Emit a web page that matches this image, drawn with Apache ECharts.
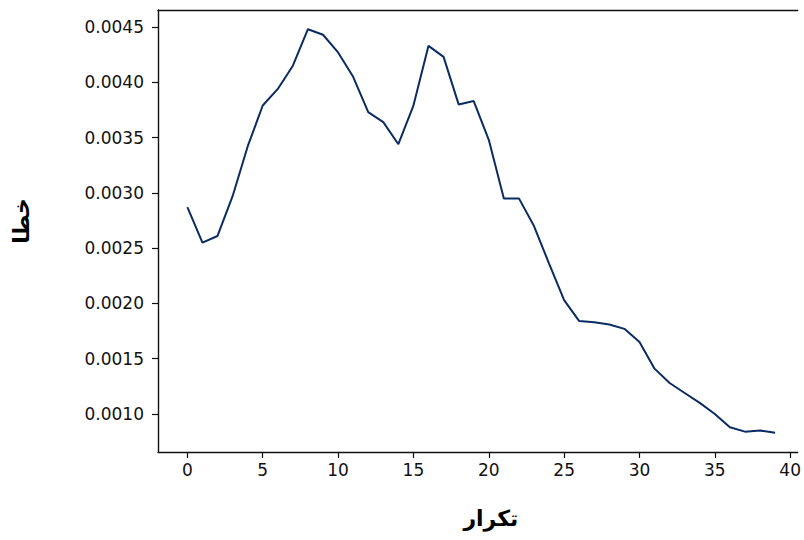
<!DOCTYPE html>
<html>
<head>
<meta charset="utf-8">
<script src="https://cdn.jsdelivr.net/npm/echarts@6/dist/echarts.min.js"></script>
<style>
html,body{margin:0;padding:0;background:#fff;}
#chart{width:804px;height:540px;}
</style>
</head>
<body>
<div id="chart"></div>
<script>
const iterations = [0,1,2,3,4,5,6,7,8,9,10,11,12,13,14,15,16,17,18,19,20,21,22,23,24,25,26,27,28,29,30,31,32,33,34,35,36,37,38,39];
const errorValues = [0.00287,0.00255,0.00261,0.00297,0.00342,0.00379,0.00394,0.00415,0.00448,0.00443,
  0.00427,0.00405,0.00373,0.00364,0.00344,0.00379,0.00433,0.00423,0.00380,0.00383,
  0.00348,0.00295,0.00295,0.00270,0.00236,0.00203,0.00184,0.00183,0.00181,0.00177,
  0.00165,0.00141,0.00128,0.00119,0.00110,0.00100,0.00088,0.00084,0.00085,0.00083];
const xTicks = [0,5,10,15,20,25,30,35,40];
const yTicks = [0.0010,0.0015,0.0020,0.0025,0.0030,0.0035,0.0040,0.0045];
const xAxisTitle = 'تكرار';
const yAxisTitle = 'خطا';

const chart = echarts.init(document.getElementById('chart'), null, {renderer:'svg'});
const font = 'DejaVu Sans';
const spine = {show:true, onZero:false, lineStyle:{color:'#111', width:1.4}};
chart.setOption({
  animation: false,
  backgroundColor: '#fff',
  grid: {left:158, top:10, right:0, bottom:88, show:false},
  xAxis: [{
    type:'value', min:-1.95, max:40.5, position:'bottom',
    name: xAxisTitle, nameLocation:'middle', nameGap:55,
    nameTextStyle:{fontFamily:font, fontSize:22, fontWeight:'bold', color:'#000', padding:[0,0,0,26]},
    axisLine:spine,
    axisTick:{show:true, length:6, customValues:xTicks, lineStyle:{color:'#111', width:1.2}},
    axisLabel:{customValues:xTicks, margin:9, fontFamily:font, fontSize:17, color:'#111', showMaxLabel:true},
    splitLine:{show:false}
  },{
    type:'value', min:-1.95, max:40.5, position:'top',
    axisLine:spine, axisTick:{show:false}, axisLabel:{show:false}, splitLine:{show:false}
  }],
  yAxis: {
    type:'value', min:0.000656, max:0.004654,
    name: yAxisTitle, nameLocation:'middle', nameGap:126, nameRotate:90,
    nameTextStyle:{fontFamily:font, fontSize:22, fontWeight:'bold', color:'#000', padding:[0,0,0,20]},
    axisLine:spine,
    axisTick:{show:true, length:6, customValues:yTicks, lineStyle:{color:'#111', width:1.2}},
    axisLabel:{customValues:yTicks, margin:14, fontFamily:font, fontSize:17, color:'#111',
      formatter: v => v.toFixed(4)},
    splitLine:{show:false}
  },
  series: [{
    type:'line', xAxisIndex:0,
    data: iterations.map((x,i)=>[x, errorValues[i]]),
    showSymbol:false, symbol:'none',
    lineStyle:{color:'#0b2c62', width:2},
    itemStyle:{color:'#0b2c62'}
  }]
});
</script>
</body>
</html>
